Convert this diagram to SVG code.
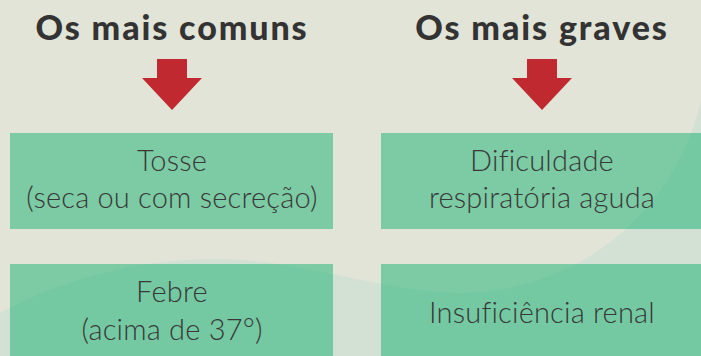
<svg xmlns="http://www.w3.org/2000/svg" width="701" height="356" viewBox="0 0 701 356">
<style>
.h{font-family:Lato,"Liberation Sans",sans-serif;font-weight:900;font-size:34px;fill:#333333;text-anchor:middle;letter-spacing:1.9px}
.t{font-family:Lato,"Liberation Sans",sans-serif;font-weight:300;font-size:29px;fill:#383838;text-anchor:middle;letter-spacing:0.2px}
.box{fill:rgb(22,178,112);fill-opacity:0.5}
.arr{fill:#c0292f}
</style>
<rect width="701" height="356" fill="#e2e4d8"/>
<path d="M0,313 C80,270 160,258 220,259 C300,260 390,293 460,293 A247,247 0 0 0 701,100 L701,356 L0,356 Z" fill="#d3e0d4"/>
<g id="header-comuns"><text class="h" x="172" y="40">Os mais comuns</text></g>
<g id="header-graves"><text class="h" x="542" y="40">Os mais graves</text></g>
<g id="connectors">
<path class="arr" d="M157,59 H187 V78 H202 L172,110 L142,78 H157 Z"/>
<path class="arr" d="M527,59 H557 V78 H572 L542,110 L512,78 H527 Z"/>
</g>
<g id="tosse"><rect class="box" x="10" y="133" width="323" height="96"/>
<text class="t" x="172" y="171">Tosse</text><text class="t" x="172" y="208">(seca ou com secreção)</text></g>
<g id="febre"><rect class="box" x="10" y="264" width="323" height="96"/>
<text class="t" x="172" y="302">Febre</text><text class="t" x="172" y="340">(acima de 37°)</text></g>
<g id="dificuldade"><rect class="box" x="381" y="133" width="323" height="96"/>
<text class="t" x="542" y="171">Dificuldade</text><text class="t" x="542" y="208">respiratória aguda</text></g>
<g id="insuficiencia"><rect class="box" x="381" y="264" width="323" height="96"/>
<text class="t" x="542" y="323">Insuficiência renal</text></g>
</svg>
